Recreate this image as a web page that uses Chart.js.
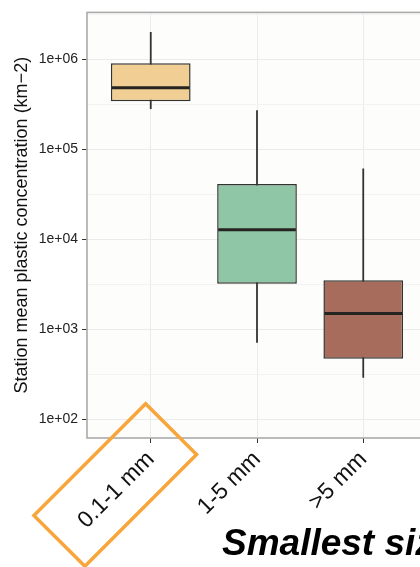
<!DOCTYPE html>
<html>
<head>
<meta charset="utf-8">
<script src="https://cdn.jsdelivr.net/npm/chart.js@4.4.1/dist/chart.umd.min.js"></script>
<style>
  html, body { margin: 0; padding: 0; background: #ffffff; overflow: hidden; }
  #wrap { width: 420px; height: 567px; overflow: hidden; }
</style>
</head>
<body>
<div id="wrap"><canvas id="box" width="440" height="567"></canvas></div>
<script>
// categories (x) and the five box-plot statistics per category
const categories = ['0.1-1 mm', '1-5 mm', '>5 mm'];
const whiskerLow = [2.8e5, 7.1e2, 2.9e2];
const q1 = [3.4e5, 3.2e3, 4.7e2];
const medians = [4.8e5, 1.27e4, 1.5e3];
const q3 = [9.0e5, 4.1e4, 3.5e3];
const whiskerHigh = [2.0e6, 2.7e5, 6.1e4];

const boxColors = ['#F1CF94', '#8FC6A5', '#A86C5C'];

// y axis (log10)
const yTickValues = [1e2, 1e3, 1e4, 1e5, 1e6];
const yTickLabels = ['1e+02', '1e+03', '1e+04', '1e+05', '1e+06'];
const yMin = 62;
const yMax = 3.3e6;

const yAxisTitle = 'Station mean plastic concentration (km\u22122)';
const bottomNote = 'Smallest size';

Chart.defaults.font.family = '"Liberation Sans", Arial, Helvetica, sans-serif';

// ggplot style minor grid at half decades
const yMinorValues = yTickValues.map(v => v * Math.sqrt(10)).filter(v => v < yMax);
const yMinorLow = yTickValues[0] / Math.sqrt(10);
if (yMinorLow > yMin) yMinorValues.unshift(yMinorLow);

const isMajor = (v) => yTickValues.some(t => Math.abs(Math.log10(t) - Math.log10(v)) < 1e-6);

const panelPlugin = {
    id: 'panel',
    beforeDraw(chart) {
        const { ctx, chartArea: a } = chart;
        ctx.save();
        ctx.fillStyle = '#fdfdfb';
        ctx.fillRect(a.left, a.top, a.right - a.left, a.bottom - a.top);
        ctx.restore();
    },
    afterDatasetsDraw(chart) {
        const { ctx, scales } = chart;
        // median lines across each box
        const meta = chart.getDatasetMeta(0);
        ctx.save();
        ctx.strokeStyle = '#262421';
        ctx.lineWidth = 3;
        meta.data.forEach((bar, i) => {
            const y = scales.y.getPixelForValue(medians[i]);
            ctx.beginPath();
            ctx.moveTo(bar.x - bar.width / 2 + 1, y);
            ctx.lineTo(bar.x + bar.width / 2 - 1, y);
            ctx.stroke();
        });
        ctx.restore();
    },
    afterDraw(chart) {
        const { ctx, chartArea: a, scales } = chart;
        ctx.save();
        // panel border
        ctx.strokeStyle = '#aaaaaa';
        ctx.lineWidth = 1.6;
        ctx.strokeRect(a.left, a.top, a.right - a.left, a.bottom - a.top);

        // orange frame around the first category label
        const x0 = scales.x.getPixelForValue(0);
        ctx.translate(x0 - 35.5, a.bottom + 47);
        ctx.rotate(-Math.PI / 4);
        ctx.strokeStyle = '#F8A53C';
        ctx.lineWidth = 3.5;
        ctx.strokeRect(-79, -36, 158, 72);
        ctx.restore();

        ctx.save();
        ctx.fillStyle = '#000000';
        ctx.font = 'italic bold 37px "Liberation Sans", Arial, sans-serif';
        ctx.textBaseline = 'alphabetic';
        ctx.fillText(bottomNote, 222, 555);
        ctx.restore();
    }
};

const boxData = categories.map((c, i) => ({ x: i, y: [q1[i], q3[i]] }));
const whiskerData = categories.map((c, i) => ({ x: i, y: [whiskerLow[i], whiskerHigh[i]] }));

new Chart(document.getElementById('box'), {
    type: 'bar',
    data: {
        datasets: [
            {
                label: 'box',
                data: boxData,
                order: 0,
                grouped: false,
                barPercentage: 0.75,
                categoryPercentage: 1,
                backgroundColor: boxColors,
                borderColor: '#333330',
                borderWidth: 1.5,
                borderSkipped: false
            },
            {
                label: 'whisker',
                data: whiskerData,
                order: 1,
                grouped: false,
                maxBarThickness: 1.8,
                backgroundColor: '#333330',
                borderWidth: 0
            }
        ]
    },
    options: {
        responsive: false,
        animation: false,
        devicePixelRatio: 1,
        layout: { padding: { top: 9, right: 13, left: 0, bottom: 0 } },
        plugins: {
            legend: { display: false },
            tooltip: { enabled: false }
        },
        scales: {
            x: {
                type: 'linear',
                offset: false,
                min: -0.6,
                max: categories.length - 0.4,
                afterBuildTicks: (scale) => {
                    scale.ticks = categories.map((c, i) => ({ value: i }));
                },
                afterFit: (scale) => { scale.height = 129; },
                grid: {
                    offset: false,
                    color: '#ebebeb',
                    lineWidth: 1,
                    tickColor: '#333333',
                    tickLength: 5
                },
                border: { display: false },
                ticks: {
                    autoSkip: false,
                    minRotation: 45,
                    maxRotation: 45,
                    padding: 3,
                    color: '#111111',
                    font: { size: 23 },
                    callback: (v) => categories[v]
                }
            },
            y: {
                type: 'logarithmic',
                min: yMin,
                max: yMax,
                afterBuildTicks: (scale) => {
                    scale.ticks = yMinorValues.concat(yTickValues)
                        .sort((a, b) => a - b)
                        .map(v => ({ value: v }));
                },
                afterFit: (scale) => { scale.width = 87; },
                grid: {
                    color: (ctx) => (ctx.tick && isMajor(ctx.tick.value)) ? '#ebebeb' : '#f3f3f2',
                    lineWidth: 1,
                    tickColor: (ctx) => (ctx.tick && isMajor(ctx.tick.value)) ? '#333333' : 'rgba(0,0,0,0)',
                    tickLength: 5
                },
                border: { display: false },
                ticks: {
                    autoSkip: false,
                    padding: 4,
                    color: '#222222',
                    font: { size: 14 },
                    callback: (v) => {
                        const i = yTickValues.findIndex(t => Math.abs(Math.log10(t) - Math.log10(v)) < 1e-6);
                        return i >= 0 ? yTickLabels[i] : '';
                    }
                },
                title: {
                    display: true,
                    text: yAxisTitle,
                    color: '#111111',
                    font: { size: 18 },
                    padding: { top: 11, bottom: 0 }
                }
            }
        }
    },
    plugins: [panelPlugin]
});
</script>
</body>
</html>
